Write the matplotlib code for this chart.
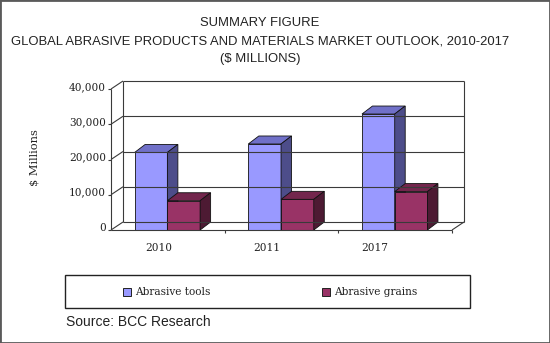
import matplotlib
matplotlib.use("Agg")
import matplotlib.pyplot as plt
from matplotlib.patches import Polygon, Rectangle

years = ["2010", "2011", "2017"]
tools = [22000, 24400, 32900]
grains = [8300, 8700, 10900]
yticks = [0, 10000, 20000, 30000, 40000]
series = ["Abrasive tools", "Abrasive grains"]

# face colours: front, top, side
TOOLS_C = ("#9999ff", "#7070c8", "#4d4d8a")
GRAINS_C = ("#993366", "#73264d", "#4d1a33")
LINE = "#3a3a3a"
SERIF = "DejaVu Serif"
SANS = "Liberation Sans"

W, H = 550, 343
fig = plt.figure(figsize=(W / 100, H / 100), dpi=100)
fig.patch.set_facecolor("white")

# front plane of the 3-D box, in pixels
x0, x1, ybot, ytop = 111, 452, 230, 89
ax = fig.add_axes([x0 / W, (H - ybot) / H, (x1 - x0) / W, (ybot - ytop) / H])
ax.set_xlim(0, 3)
ax.set_ylim(0, 40000)
ax.axis("off")

ppx = (x1 - x0) / 3          # pixels per category
ppy = (ybot - ytop) / 40000  # pixels per value unit
wdx, wdy = 12 / ppx, 8 / ppy      # wall depth
bdx, bdy = 10.5 / ppx, 8 / ppy    # bar depth


def line(xs, ys, **kw):
    ax.plot(xs, ys, color=LINE, lw=0.8, clip_on=False, solid_capstyle="butt", **kw)


# back wall, gridlines and side-wall lines
for v in yticks:
    line([wdx, 3 + wdx], [v + wdy, v + wdy])
    line([0, wdx], [v, v + wdy])
    line([-0.03, 0], [v, v])
    ax.text(-0.045, v + 600, f"{v:,}", ha="right", va="center", fontsize=7.6,
            family=SERIF, color="#222")
line([wdx, wdx], [wdy, 40000 + wdy])
line([3 + wdx, 3 + wdx], [wdy, 40000 + wdy])
line([0, 0], [0, 40000])
line([0, 3], [0, 0])
line([3, 3 + wdx], [0, wdy])
for i in range(1, 4):
    line([i, i], [0, -900])


def bar3d(xl, w, h, cols):
    front, top, side = cols
    kw = dict(edgecolor="#111", lw=0.6, clip_on=False)
    ax.add_patch(Polygon([(xl, 0), (xl + w, 0), (xl + w, h), (xl, h)],
                         facecolor=front, **kw))
    ax.add_patch(Polygon([(xl, h), (xl + w, h), (xl + w + bdx, h + bdy),
                          (xl + bdx, h + bdy)], facecolor=top, **kw))
    ax.add_patch(Polygon([(xl + w, 0), (xl + w + bdx, bdy),
                          (xl + w + bdx, h + bdy), (xl + w, h)],
                         facecolor=side, **kw))


bw = 0.288
for i, (t, g) in enumerate(zip(tools, grains)):
    bar3d(i + 0.208, bw, t, TOOLS_C)
    bar3d(i + 0.208 + bw, bw, g, GRAINS_C)
    ax.text(0.42 + 0.95 * i, -5200, years[i], ha="center", va="center",
            fontsize=7.6, family=SERIF, color="#222")

fig.text(35 / W, 1 - 158 / H, "$ Millions", rotation=90, ha="center",
         va="center", fontsize=8.2, family=SERIF, color="#222")

# title
for txt, yp in [("SUMMARY FIGURE", 23),
                ("GLOBAL ABRASIVE PRODUCTS AND MATERIALS MARKET OUTLOOK, 2010-2017", 41),
                ("($ MILLIONS)", 59)]:
    fig.text(260 / W, 1 - yp / H, txt, ha="center", va="center",
             fontsize=9.4, family=SANS, color="#222")

# legend box
fig.patches.append(Rectangle((65 / W, 1 - 308 / H), 405 / W, 33 / H,
                             transform=fig.transFigure, fill=False,
                             edgecolor="#222", lw=1))
for name, c, xm in [(series[0], TOOLS_C[0], 123), (series[1], GRAINS_C[0], 322)]:
    fig.patches.append(Rectangle((xm / W, 1 - 296 / H), 8 / W, 8 / H,
                                 transform=fig.transFigure, facecolor=c,
                                 edgecolor="#222", lw=0.7))
    fig.text((xm + 12) / W, 1 - 292 / H, name, ha="left", va="center",
             fontsize=7.6, family=SERIF, color="#222")

fig.text(66 / W, 1 - 322 / H, "Source: BCC Research", ha="left", va="center",
         fontsize=10, family=SANS, color="#222")

fig.patches.append(Rectangle((0, 0), 1, 1, transform=fig.transFigure,
                             fill=False, edgecolor="#5a5a5a", lw=2))

fig.savefig("out.png", dpi=100)
